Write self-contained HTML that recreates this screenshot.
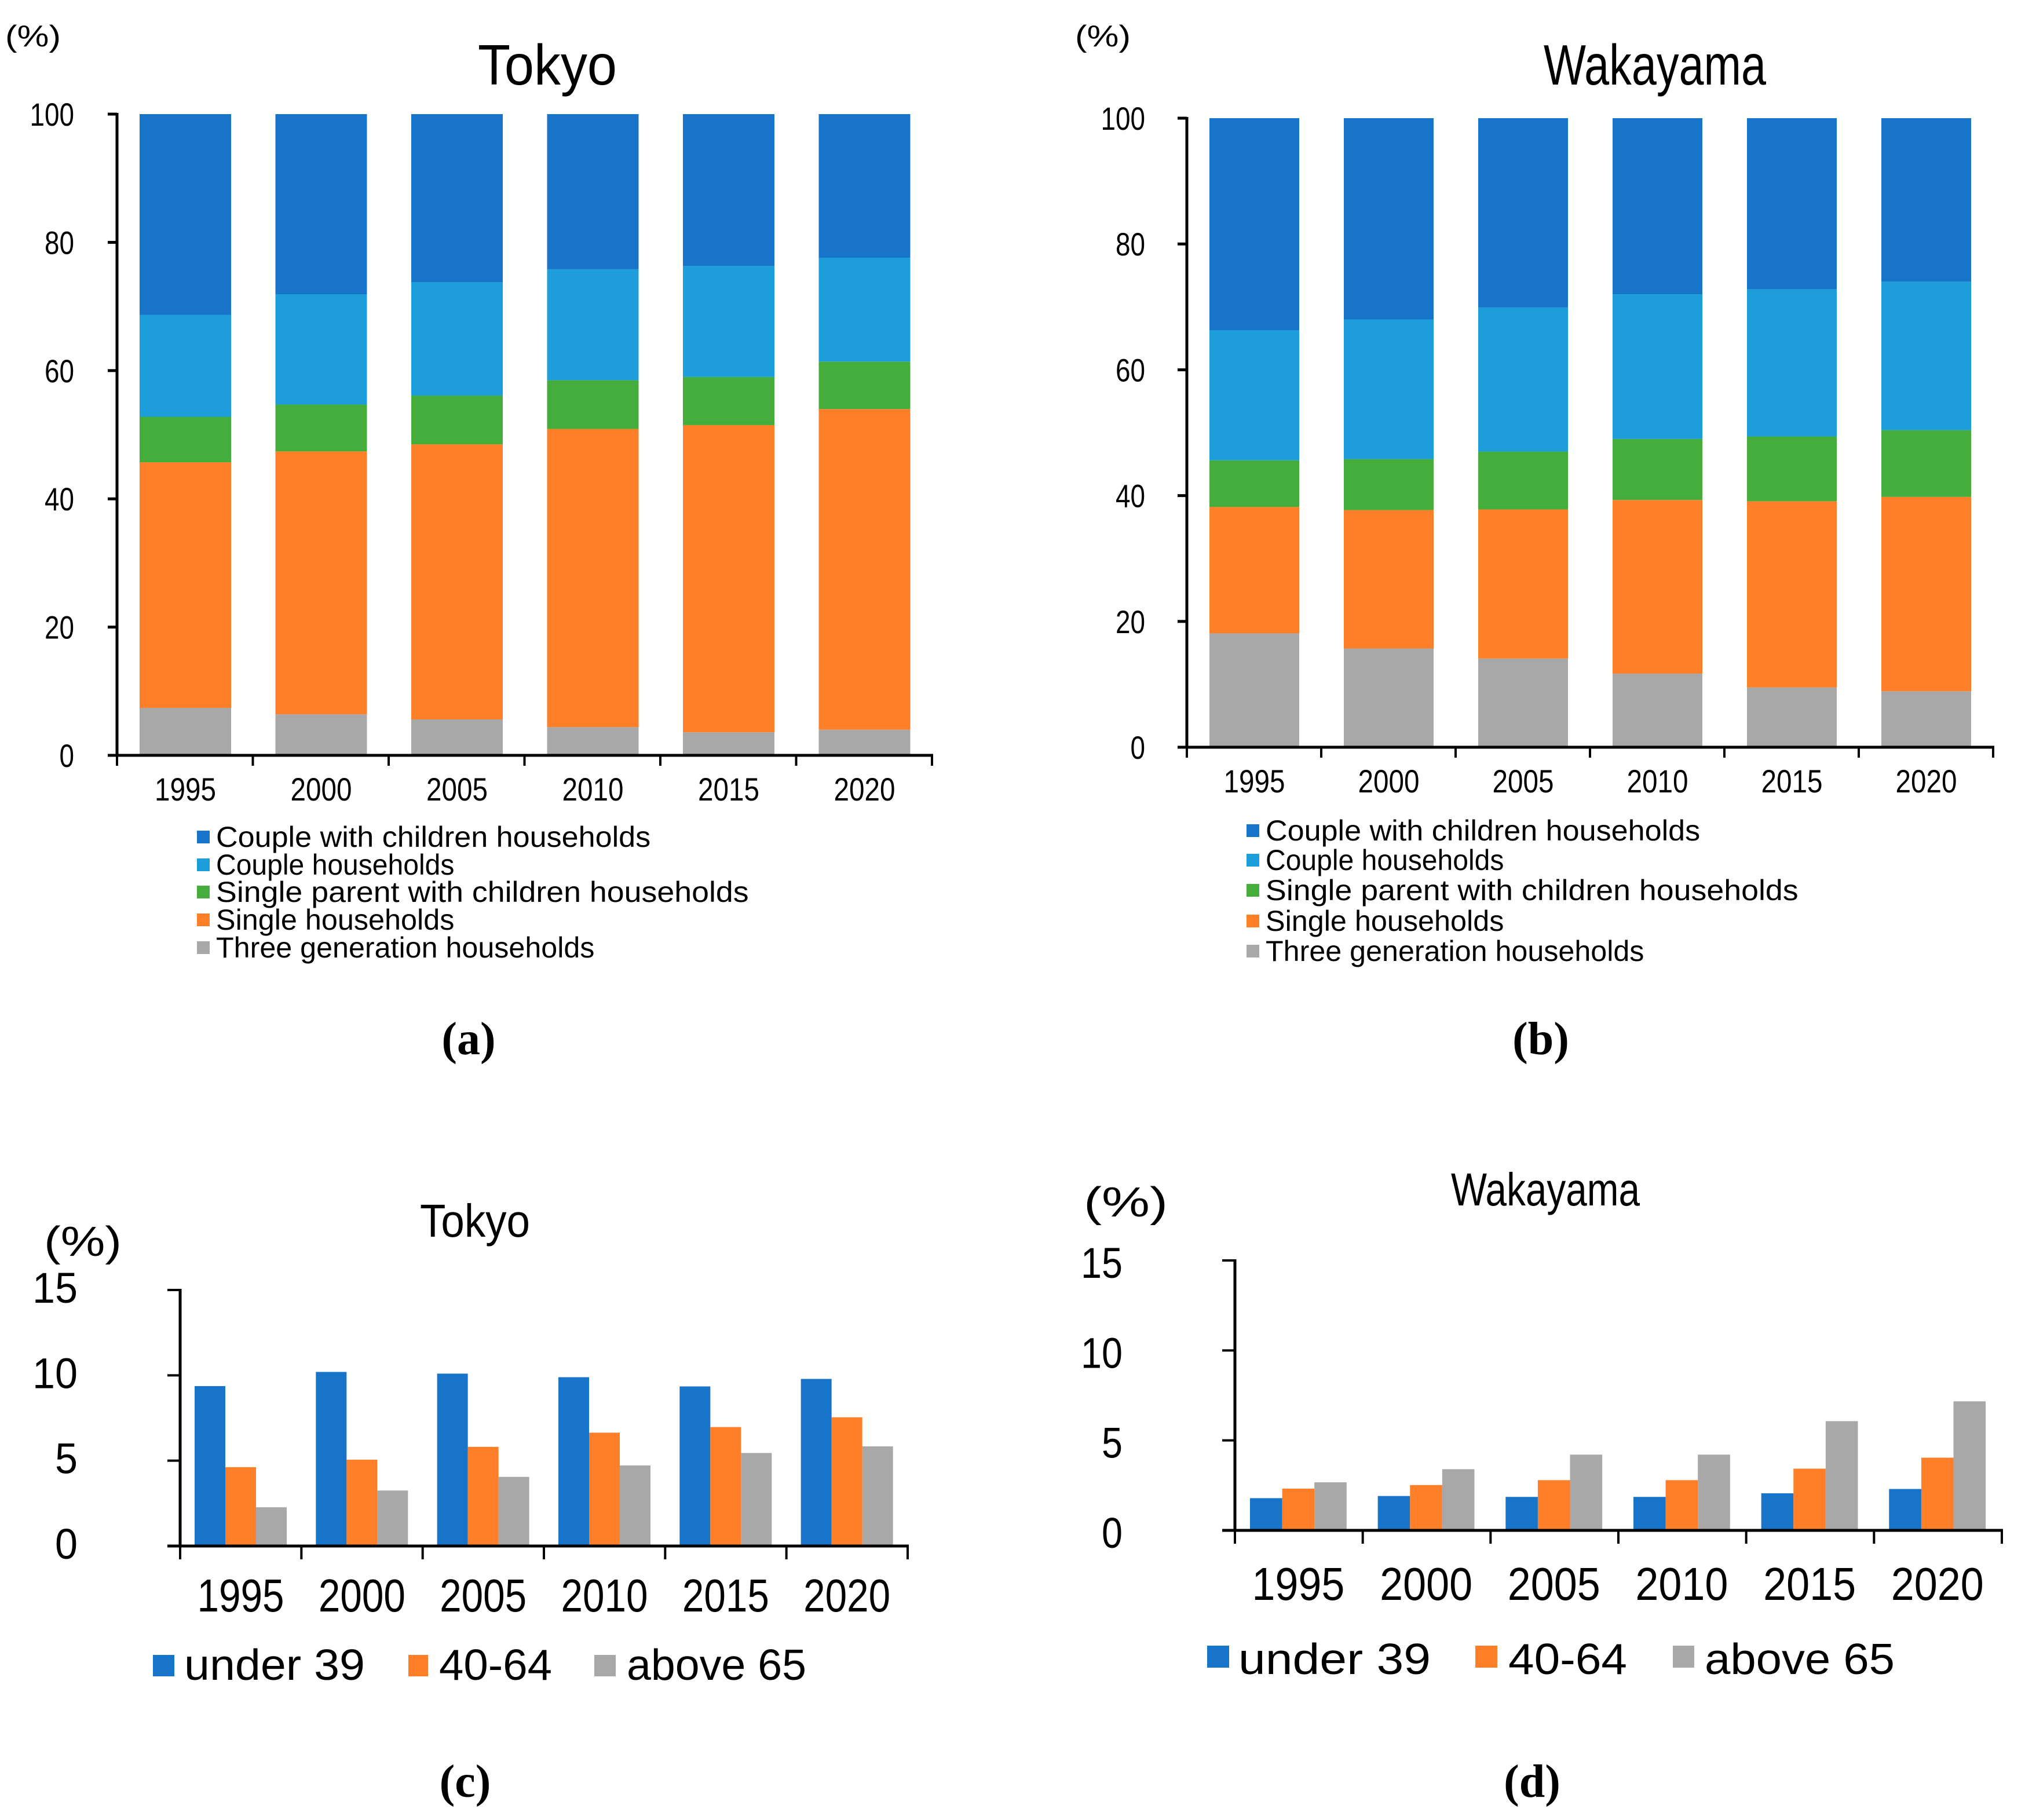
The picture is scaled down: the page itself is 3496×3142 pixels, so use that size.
<!DOCTYPE html>
<html><head><meta charset="utf-8"><style>
html,body{margin:0;padding:0;background:#fff;}
svg{display:block;}
text{font-family:"Liberation Sans","Noto Sans CJK JP",sans-serif;fill:#000;}
.cap{font-family:"Liberation Serif",serif;font-weight:bold;}
</style></head><body>
<svg id="fig" width="3496" height="3142" viewBox="0 0 3496 3142" xmlns="http://www.w3.org/2000/svg"></svg>
<script>
const years = ["1995","2000","2005","2010","2015","2020"];
const stackSeries = ["Couple with children households","Couple households","Single parent with children households","Single households","Three generation households"];
const stackColors = ["#1874c9","#1d9dd9","#45ad3b","#fe7f28","#a8a8a8"];
const tokyoThreeGen = [7.4,6.4,5.6,4.4,3.6,4.0];
const tokyoSingle = [38.3,41.0,42.9,46.5,47.9,50.0];
const tokyoSingleParent = [7.1,7.3,7.6,7.6,7.5,7.4];
const tokyoCouple = [15.9,17.2,17.7,17.3,17.3,16.2];
const wakaThreeGen = [18.1,15.7,14.1,11.7,9.5,8.9];
const wakaSingle = [20.1,22.0,23.7,27.6,29.6,30.9];
const wakaSingleParent = [7.4,8.1,9.2,9.7,10.3,10.6];
const wakaCouple = [20.7,22.2,22.9,23.0,23.4,23.6];
const stackTicks = ["0","20","40","60","80","100"];
const ageSeries = ["under 39","40-64","above 65"];
const ageColors = ["#1874c9","#fe7f28","#a8a8a8"];
const tokyoUnder39 = [9.37,10.2,10.1,9.89,9.35,9.79];
const tokyo4064 = [4.62,5.06,5.81,6.64,6.97,7.54];
const tokyoAbove65 = [2.27,3.25,4.05,4.72,5.45,5.84];
const wakaUnder39 = [1.79,1.91,1.86,1.86,2.06,2.30];
const waka4064 = [2.32,2.52,2.79,2.79,3.43,4.04];
const wakaAbove65 = [2.67,3.40,4.21,4.21,6.07,7.17];
const ageTicks = ["0","5","10","15"];

const NS="http://www.w3.org/2000/svg";
const svg=document.getElementById('fig');
function mk(tag,attrs,parent){const e=document.createElementNS(NS,tag);for(const k in attrs)e.setAttribute(k,attrs[k]);(parent||svg).appendChild(e);return e;}
function txt(parent,x,y,s,size,anchor,perChar,cls){
  const t=mk('text',{x:x,y:y,'font-size':size,'text-anchor':anchor||'start'},parent);
  if(perChar){t.setAttribute('textLength',(perChar*s.length).toFixed(1));t.setAttribute('lengthAdjust','spacingAndGlyphs');}
  if(cls)t.setAttribute('class',cls);
  t.textContent=s;return t;
}
function line(parent,x1,y1,x2,y2,w){return mk('line',{x1:x1,y1:y1,x2:x2,y2:y2,stroke:'#000','stroke-width':w},parent);}

function stacked(cfg){
  const g=mk('g',{});
  
  
  const y=v=>cfg.y0-(cfg.y0-cfg.y100)*v/100;
  const pitch=(cfg.xEnd-cfg.ax)/years.length;
  const layers=[cfg.d[0],cfg.d[1],cfg.d[2],cfg.d[3]];
  years.forEach((yr,i)=>{
    const bx=cfg.ax+i*pitch+cfg.off;
    let base=0;
    const vals=[...layers.map(a=>a[i])];
    vals.push(100-vals.reduce((a,b)=>a+b,0));
    vals.forEach((v,j)=>{
      const r=mk('rect',{x:bx,y:y(base+v),width:cfg.bw,height:y(base)-y(base+v),fill:stackColors[4-j]},g);
      
      
      base+=v;
    });
    const t=txt(g,bx+cfg.bw/2,cfg.yearY,yr,56,'middle',26.5);
    
    
  });
  line(g,cfg.ax,cfg.y100-2,cfg.ax,cfg.y0,5);
  line(g,cfg.ax-16,cfg.y0,cfg.xEnd+2,cfg.y0,5);
  stackTicks.forEach(tk=>{
    const yy=y(+tk);line(g,cfg.ax-16,yy,cfg.ax,yy,5);
    const t=txt(g,cfg.tickR,yy+20,tk,56,'end',25.5);
    
    
  });
  for(let i=0;i<=years.length;i++){const xx=cfg.ax+i*pitch;line(g,xx,cfg.y0,xx,cfg.y0+18,4);}
  const ti=txt(g,cfg.titleX,146,cfg.title,98,'middle',48);
  
  
  const u=txt(g,cfg.unitX,80,"(%)",52,'start',32);
  
  
  stackSeries.forEach((s,j)=>{
    const cy=cfg.legY[j];
    const r=mk('rect',{x:cfg.legX,y:cy-11,width:22,height:22,fill:stackColors[j]},g);
    
    
    const t=txt(g,cfg.legX+33,cy+17,s,50,'start',24.2);
    
    
  });
}

function grouped(cfg){
  const g=mk('g',{});
  
  
  const y=v=>cfg.y0-(cfg.y0-cfg.y15)*v/15;
  const pitch=(cfg.xEnd-cfg.ax)/years.length;
  years.forEach((yr,i)=>{
    const gx=cfg.ax+i*pitch+cfg.off;
    cfg.d.forEach((arr,j)=>{
      const r=mk('rect',{x:gx+j*cfg.bw,y:y(arr[i]),width:cfg.bw,height:cfg.y0-y(arr[i]),fill:ageColors[j]},g);
      
      
    });
    const t=txt(g,gx+1.5*cfg.bw,cfg.yearY,yr,80,'middle',cfg.yearW/4);
    
    
  });
  line(g,cfg.ax,cfg.y15-2,cfg.ax,cfg.y0,5);
  line(g,cfg.ax-22,cfg.y0,cfg.xEnd+2,cfg.y0,5);
  ageTicks.forEach(tk=>{
    const yy=y(+tk);line(g,cfg.ax-22,yy,cfg.ax,yy,4);
    const t=txt(g,cfg.tickR,yy+cfg.tickDy,tk,74,'end',cfg.tickW);
    
    
  });
  for(let i=0;i<=years.length;i++){const xx=cfg.ax+i*pitch;line(g,xx,cfg.y0,xx,cfg.y0+23,4);}
  const ti=txt(g,cfg.titleX,cfg.titleY,cfg.title,80,'middle',cfg.titleW/cfg.title.length);
  
  
  const u=txt(g,cfg.unitX,cfg.unitY,"(%)",72,'start',cfg.unitW/3);
  
  
  ageSeries.forEach((s,j)=>{
    const L=cfg.leg[j];
    const r=mk('rect',{x:L[0],y:cfg.legTop,width:L[1]-L[0],height:cfg.legH,fill:ageColors[j]},g);
    
    
    const t=txt(g,L[2],cfg.legBase,s,75,'start',(L[3]-L[2])/s.length);
    
    
  });
}

stacked({name:'chart-a-tokyo-stacked',ax:202,y0:1304,y100:197,xEnd:1609,off:39,bw:158,yearY:1382,tickR:128,
  title:'Tokyo',titleX:945,unitX:9,legX:340,legY:[1445,1493,1540,1588,1636],
  d:[tokyoThreeGen,tokyoSingle,tokyoSingleParent,tokyoCouple]});
stacked({name:'chart-b-wakayama-stacked',ax:2049,y0:1290,y100:204,xEnd:3441,off:39,bw:155,yearY:1368,tickR:1977,
  title:'Wakayama',titleX:2857,unitX:1856,legX:2152,legY:[1434,1485,1537,1590,1642],
  d:[wakaThreeGen,wakaSingle,wakaSingleParent,wakaCouple]});
grouped({name:'chart-c-tokyo-age',ax:311,y0:2669,y15:2227,xEnd:1567,off:25,bw:53,yearY:2782,yearW:150,
  tickR:134,tickW:39,tickDy:22,title:'Tokyo',titleX:820,titleY:2135,titleW:190,unitX:76,unitY:2168,unitW:134,
  legTop:2857,legH:37,legBase:2900,leg:[[264,301,318,630],[705,739,758,953],[1026,1063,1082,1392]],
  d:[tokyoUnder39,tokyo4064,tokyoAbove65]});
grouped({name:'chart-d-wakayama-age',ax:2132,y0:2642,y15:2176,xEnd:3456,off:26,bw:55.6,yearY:2762,yearW:160,
  tickR:1938,tickW:36,tickDy:30,title:'Wakayama',titleX:2668,titleY:2081,titleW:326,unitX:1871,unitY:2100,unitW:145,
  legTop:2841,legH:38,legBase:2890,leg:[[2084,2122,2138,2470],[2547,2585,2604,2809],[2888,2925,2943,3271]],
  d:[wakaUnder39,waka4064,wakaAbove65]});

[["(a)",809,1820],["(b)",2660,1820],["(c)",803,3102],["(d)",2645,3102]].forEach(c=>{
  const t=txt(svg,c[1],c[2],c[0],80,'middle',null,'cap');
  
  
});
</script>
</body></html>
